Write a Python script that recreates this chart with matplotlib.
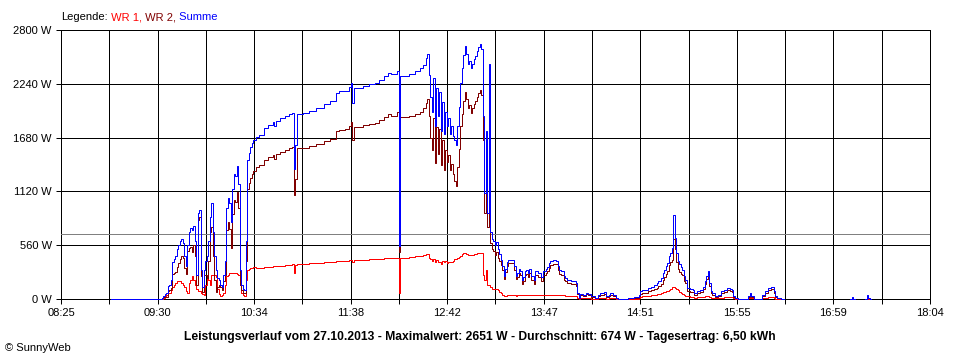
"""Leistungsverlauf SunnyWeb, 27.10.2013."""

import matplotlib

matplotlib.use("Agg")
import matplotlib.pyplot as plt
import numpy as np

plt.rcParams["font.family"] = ["Liberation Sans", "DejaVu Sans"]

# Messzeiten und Leistungen (W); None = keine Daten
zeit = [
    "08:58", "09:31", "09:32", "09:33", "09:34", "09:35", "09:36", "09:37", "09:38", "09:39",
    "09:40", "09:41", "09:42", "09:43", "09:44", "09:45", "09:46", "09:47", "09:48", "09:49",
    "09:50", "09:51", "09:52", "09:53", "09:54", "09:55", "09:56", "09:57", "09:58", "09:59",
    "10:00", "10:01", "10:02", "10:03", "10:04", "10:05", "10:06", "10:07", "10:08", "10:09",
    "10:10", "10:11", "10:12", "10:13", "10:14", "10:15", "10:16", "10:17", "10:18", "10:19",
    "10:20", "10:21", "10:22", "10:23", "10:24", "10:25", "10:26", "10:27", "10:28", "10:29",
    "10:30", "10:31", "10:32", "10:33", "10:35", "10:37", "10:40", "10:43", "10:46", "10:47",
    "10:48", "10:51", "10:54", "10:57", "10:59", "11:00", "11:01", "11:02", "11:06", "11:10",
    "11:15", "11:20", "11:24", "11:28", "11:30", "11:34", "11:37", "11:38", "11:39", "11:40",
    "11:46", "11:50", "11:54", "11:57", "12:00", "12:03", "12:05", "12:09", "12:10", "12:11",
    "12:17", "12:21", "12:24", "12:26", "12:28", "12:29", "12:30", "12:31", "12:32", "12:33",
    "12:34", "12:35", "12:36", "12:37", "12:38", "12:39", "12:40", "12:41", "12:42", "12:43",
    "12:44", "12:45", "12:46", "12:47", "12:48", "12:49", "12:50", "12:51", "12:52", "12:53",
    "12:54", "12:55", "12:56", "12:57", "12:58", "12:59", "13:00", "13:01", "13:02", "13:03",
    "13:04", "13:05", "13:06", "13:07", "13:08", "13:09", "13:10", "13:11", "13:12", "13:13",
    "13:14", "13:15", "13:16", "13:17", "13:18", "13:19", "13:20", "13:21", "13:22", "13:23",
    "13:26", "13:27", "13:28", "13:29", "13:30", "13:31", "13:32", "13:33", "13:34", "13:35",
    "13:36", "13:37", "13:38", "13:40", "13:41", "13:43", "13:45", "13:46", "13:48", "13:49",
    "13:50", "13:51", "13:53", "13:55", "13:56", "13:57", "13:58", "14:00", "14:01", "14:02",
    "14:05", "14:08", "14:09", "14:10", "14:11", "14:13", "14:15", "14:16", "14:18", "14:21",
    "14:23", "14:24", "14:27", "14:28", "14:30", "14:31", "14:33", "14:35", "14:36", "14:39",
    "14:43", "14:47", "14:50", "14:51", "14:52", "14:54", "14:56", "14:58", "15:00", "15:02",
    "15:03", "15:05", "15:06", "15:07", "15:08", "15:09", "15:10", "15:11", "15:12", "15:13",
    "15:14", "15:15", "15:16", "15:17", "15:18", "15:19", "15:20", "15:21", "15:22", "15:24",
    "15:26", "15:27", "15:29", "15:31", "15:33", "15:34", "15:35", "15:36", "15:37", "15:38",
    "15:39", "15:41", "15:43", "15:45", "15:47", "15:49", "15:51", "15:52", "15:53", "15:54",
    "15:56", "16:03", "16:04", "16:05", "16:07", "16:12", "16:14", "16:16", "16:18", "16:20",
    "16:21", "16:22", "16:25", "16:27", "17:11", "17:12", "17:13", "17:14", "17:21", "17:22",
    "17:23", "17:24", "17:25",
]
wr1 = [
    0, 0, 0, 10, 30, 40, 60, 60, 90, 120,
    150, 170, 185, 185, 185, 170, 150, 130, 80, 60,
    165, 200, 235, 200, 150, 100, 80, 80, 60, 50,
    45, 150, 235, 200, 150, 255, 255, 250, 230, 100,
    50, 30, 40, 60, 150, 235, 250, 270, 270, 270,
    270, 270, 265, 250, 150, 60, 40, 30, 200, 300,
    310, 320, 320, 330, 320, 320, 330, 330, 340, 340,
    340, 345, 350, 355, 360, 270, 350, 360, 365, 370,
    375, 385, 390, 395, 400, 400, 405, 405, 390, 410,
    410, 415, 420, 420, 425, 430, 430, 430, 65, 430,
    435, 445, 450, 455, 465, 470, 430, 420, 400, 420,
    380, 410, 390, 380, 360, 400, 380, 400, 370, 380,
    380, 390, 400, 420, 420, 430, 440, 450, 470, 480,
    480, 470, 460, 460, 460, 460, 470, 470, 475, 480,
    480, 480, 250, 200, 300, 150, 150, 120, 100, 100,
    100, 100, 90, 70, 60, 40, 30, 30, 40, 40,
    40, 40, 30, 40, 40, 40, 40, 40, 40, 40,
    40, 40, 40, 40, 40, 40, 40, 40, 40, 40,
    45, 45, 45, 40, 40, 40, 40, 40, 35, 35,
    35, 30, 10, 5, 10, 10, 10, 10, 5, 2,
    10, 15, 15, 5, 10, 15, 10, 2, 0, 0,
    2, 5, 15, 25, 30, 30, 35, 40, 45, 50,
    55, 60, 70, 75, 80, 85, 95, 100, 120, 125,
    110, 100, 90, 75, 65, 55, 45, 35, 30, 25,
    20, 15, 20, 20, 25, 30, 35, 35, 25, 15,
    15, 10, 10, 15, 20, 20, 20, 20, 8, 2,
    0, 10, 15, 8, 0, 10, 15, 20, 20, 15,
    5, 2, 0, None, 0, 5, 0, None, 0, 10,
    5, 0, None,
]
wr2 = [
    0, 0, 10, 20, 20, 20, 80, 90, 110, 260,
    270, 280, 335, 375, 415, 450, 430, 320, 260, 500,
    535, 540, 485, 560, 450, 150, 820, 850, 240, 70,
    255, 250, 215, 400, 700, 745, 445, 200, 70, 120,
    150, 120, 90, 190, 250, 715, 800, 730, 530, 880,
    1030, 1010, 1115, 950, 150, 90, 60, 60, 400, 1150,
    1210, 1260, 1300, 1330, 1370, 1390, 1450, 1480, 1500, 1460,
    1510, 1535, 1550, 1575, 1580, 1080, 1250, 1570, 1575, 1590,
    1615, 1645, 1670, 1745, 1760, 1765, 1805, 1845, 1655, 1790,
    1810, 1820, 1830, 1860, 1895, 1925, 1910, 1945, 485, 1890,
    1905, 1925, 1950, 1985, 2045, 2080, 1900, 1680, 1550, 1880,
    1420, 1790, 1510, 1770, 1390, 1650, 1340, 1550, 1430, 1500,
    1340, 1410, 1300, 1230, 1180, 1370, 1560, 1800, 1930, 2060,
    2150, 2080, 1990, 2020, 1940, 1990, 2030, 2060, 2105, 2140,
    2171, 2120, 1650, 900, 1450, 750, 2300, 580, 520, 500,
    460, 490, 430, 400, 350, 300, 210, 280, 340, 370,
    370, 300, 210, 230, 270, 250, 160, 190, 250, 260,
    230, 270, 200, 160, 250, 230, 190, 250, 270, 290,
    325, 355, 365, 360, 300, 260, 250, 200, 185, 165,
    155, 140, 50, 10, 40, 35, 50, 40, 25, 8,
    35, 45, 55, 25, 35, 45, 30, 8, 0, 5,
    8, 15, 30, 55, 65, 65, 80, 90, 105, 115,
    135, 160, 200, 225, 260, 290, 350, 380, 410, 620,
    520, 380, 310, 285, 265, 245, 190, 165, 85, 75,
    75, 45, 60, 75, 105, 155, 205, 255, 140, 65,
    45, 20, 35, 65, 75, 95, 80, 75, 22, 8,
    0, 25, 45, 22, 0, 35, 65, 95, 105, 65,
    25, 8, 0, None, 0, 15, 0, None, 0, 30,
    10, 0, None,
]
summe = [
    0, 0, 10, 30, 50, 60, 140, 150, 200, 380,
    420, 450, 520, 560, 600, 620, 580, 450, 340, 560,
    700, 740, 720, 760, 600, 250, 900, 930, 300, 120,
    300, 400, 450, 600, 850, 1000, 700, 450, 300, 220,
    200, 150, 130, 250, 400, 950, 1050, 1000, 800, 1150,
    1300, 1280, 1380, 1200, 300, 150, 100, 90, 600, 1450,
    1520, 1580, 1620, 1660, 1690, 1710, 1780, 1810, 1840, 1800,
    1850, 1880, 1900, 1930, 1940, 1350, 1600, 1930, 1940, 1960,
    1990, 2030, 2060, 2140, 2160, 2165, 2210, 2250, 2045, 2200,
    2220, 2235, 2250, 2280, 2320, 2355, 2340, 2375, 550, 2320,
    2340, 2370, 2400, 2440, 2510, 2550, 2330, 2100, 1950, 2300,
    1800, 2200, 1900, 2150, 1750, 2050, 1720, 1950, 1800, 1880,
    1720, 1800, 1700, 1650, 1600, 1800, 2000, 2250, 2400, 2540,
    2630, 2550, 2450, 2480, 2400, 2450, 2500, 2530, 2580, 2620,
    2651, 2600, 1900, 1100, 1750, 900, 2450, 700, 620, 600,
    560, 590, 520, 470, 410, 340, 240, 310, 380, 410,
    410, 340, 240, 270, 310, 290, 200, 230, 290, 300,
    270, 310, 240, 200, 290, 270, 230, 290, 310, 330,
    370, 400, 410, 400, 340, 300, 290, 240, 220, 200,
    190, 170, 60, 15, 50, 45, 60, 50, 30, 10,
    45, 60, 70, 30, 45, 60, 40, 10, 0, 5,
    10, 20, 45, 80, 95, 95, 115, 130, 150, 165,
    190, 220, 270, 300, 340, 375, 445, 480, 530, 870,
    640, 480, 400, 360, 330, 300, 235, 200, 115, 100,
    95, 60, 80, 95, 130, 185, 240, 290, 165, 80,
    60, 30, 45, 80, 95, 115, 100, 95, 30, 10,
    0, 35, 60, 30, 0, 45, 80, 115, 125, 80,
    30, 10, 0, None, 0, 20, 0, None, 0, 40,
    15, 0, None,
]

x_labels = ["08:25", "09:30", "10:34", "11:38", "12:42", "13:47", "14:51", "15:55", "16:59", "18:04"]
y_werte = [0, 560, 1120, 1680, 2240, 2800]
y_labels = ["0 W", "560 W", "1120 W", "1680 W", "2240 W", "2800 W"]
durchschnitt = 674
legende = ["Legende:", " WR 1,", " WR 2,", " Summe"]
titel = ("Leistungsverlauf vom 27.10.2013 - Maximalwert: 2651 W - "
         "Durchschnitt: 674 W - Tagesertrag: 6,50 kWh")

ROT, DUNKELROT, BLAU = "#ff0000", "#800000", "#0000ff"


def to_min(s):
    h, m = s.split(":")
    return int(h) * 60 + int(m)


t = np.array([to_min(z) for z in zeit])
r1 = np.array(wr1, dtype=float)
r2 = np.array(wr2, dtype=float)
su = np.array(summe, dtype=float)

W, H = 960, 360
fig = plt.figure(figsize=(W / 100, H / 100), dpi=100)
fig.patch.set_facecolor("white")
ax = fig.add_axes([61 / W, 1 - 299 / H, (930 - 61) / W, (299 - 30) / H])

t0, t1 = to_min(x_labels[0]), to_min(x_labels[-1])
ax.set_xlim(t0, t1)
ax.set_ylim(y_werte[0], y_werte[-1])

# senkrechtes Raster alle 32 min, nur jede zweite Linie beschriftet
xt = np.linspace(t0, t1, 2 * (len(x_labels) - 1) + 1)
ax.set_xticks(xt)
ax.set_xticklabels([x_labels[i // 2] if i % 2 == 0 else "" for i in range(len(xt))])
ax.set_yticks(y_werte)
ax.set_yticklabels(y_labels)
ax.grid(True, color="black", lw=0.72)
ax.set_axisbelow(True)
ax.tick_params(length=3.6, width=0.72, labelsize=8, pad=3, colors="black")
for sp in ax.spines.values():
    sp.set_linewidth(0.72)
    sp.set_color("black")
    sp.set_zorder(1)

ax.axhline(durchschnitt, color="#808080", lw=0.72, zorder=2)

# Summe zuletzt, damit die Nulllinie blau auf der Achse liegt
kw = dict(drawstyle="steps-post", lw=0.72, snap=True, clip_on=False)
ax.plot(t, r1, color=ROT, zorder=6, **kw)
ax.plot(t, r2, color=DUNKELROT, zorder=7, **kw)
ax.plot(t, su, color=BLAU, zorder=8, **kw)

# Legende als farbiger Text
renderer = fig.canvas.get_renderer()
x = 61
for s, c in zip(legende, ["black", ROT, DUNKELROT, BLAU]):
    txt = fig.text(x / W, 1 - 17 / H, s, color=c, fontsize=8, va="center", ha="left")
    x += txt.get_window_extent(renderer).width

fig.text(0.5, 1 - 337 / H, titel, fontsize=8.7, fontweight="bold", ha="center", va="center")
fig.text(5 / W, 1 - 348 / H, "© SunnyWeb", fontsize=8, ha="left", va="center")

fig.savefig("out.png", dpi=100, facecolor="white")
